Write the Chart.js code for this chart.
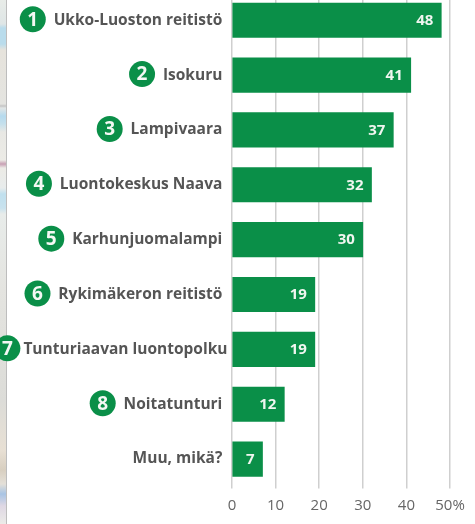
<!DOCTYPE html>
<html><head><meta charset="utf-8">
<script src="https://cdn.jsdelivr.net/npm/chart.js@4/dist/chart.umd.min.js"></script>
<style>
html,body{margin:0;padding:0;background:#fff;overflow:hidden}
#strip{position:absolute;left:0;top:0;width:6px;height:524px;border-right:1.5px solid #bdbdbd;
background:linear-gradient(180deg,#e8ece8 0,#dfe6e6 24px,#b9dcec 28px,#b9dcec 44px,#e6e3dc 50px,#e4e4e0 104px,#c4c4c4 106px,#e2e6e6 108px,#b5daee 116px,#c5e0ec 124px,#e8e8e4 132px,#ecebe6 160px,#c8a0b4 164px,#ecebe6 168px,#e8ecec 188px,#c0e0ee 194px,#c8e2ee 208px,#e8ecea 214px,#e4e4e0 290px,#dcdcd8 400px,#e8e0d4 450px,#d8cfc0 470px,#e4e0d8 484px,#a8c4e4 494px,#dfd8e4 506px,#ecebe8 524px)}
#wrap{position:absolute;left:0;top:-21px;width:475px;height:545px}
</style></head><body>
<div id="strip"></div>
<div id="wrap"><canvas id="c" width="475" height="545"></canvas></div>
<script>
const categories=["Ukko-Luoston reitistö","Isokuru","Lampivaara","Luontokeskus Naava","Karhunjuomalampi","Rykimäkeron reitistö","Tunturiaavan luontopolku","Noitatunturi","Muu, mikä?"];
const values=[48,41,37,32,30,19,19,12,7];
const badges=["1","2","3","4","5","6","7","8",""];
const xTicks=[0,10,20,30,40,50];
const GREEN="#0a8f48", LABEL="#555", FONT='"Open Sans"';
const LABEL_SIZE=15.5, LONG=6, RIGHT_END=222, LONG_END=227.5;
const overlay={id:'overlay',afterDatasetsDraw(ch){
  const ctx=ch.ctx, y=ch.scales.y, meta=ch.getDatasetMeta(0);
  ctx.save();
  ctx.textBaseline='middle';
  meta.data.forEach((bar,i)=>{
    ctx.font='bold 15px '+FONT; ctx.textAlign='right'; ctx.fillStyle='#f0f6f0';
    ctx.fillText(String(values[i]),bar.x-8,bar.y+0.5);
    if(!badges[i])return;
    ctx.font='bold '+LABEL_SIZE+'px '+FONT;
    const w=ctx.measureText(categories[i]).width;
    const right=i===LONG?LONG_END:RIGHT_END;
    const cx=right-w-(i===LONG?16:20.5), cy=y.getPixelForValue(i)-1;
    ctx.beginPath();ctx.arc(cx,cy,13,0,Math.PI*2);ctx.fillStyle=GREEN;ctx.fill();
    ctx.font='bold 19px '+FONT;ctx.textAlign='center';ctx.fillStyle='#f4f8f4';
    ctx.fillText(badges[i],cx,cy+1);
  });
  ctx.restore();
}};
new Chart(document.getElementById('c'),{
  type:'bar',
  data:{labels:categories,datasets:[{data:values,backgroundColor:GREEN,barThickness:34.5,borderWidth:0}]},
  options:{
    indexAxis:'y',responsive:false,animation:false,
    layout:{padding:{top:12.5,right:25,left:0,bottom:0}},
    plugins:{legend:{display:false},tooltip:{enabled:false}},
    scales:{
      x:{min:0,max:50,afterBuildTicks(s){s.ticks=xTicks.map(v=>({value:v}));},
        afterFit(s){s.height=37.5;},
        grid:{color:'#cfcfcf',lineWidth:1.5,drawTicks:true,tickLength:2},
        border:{display:false},
        ticks:{color:'#666',font:{family:FONT,size:15},padding:8,maxRotation:0,
          callback:v=>v===50?'50%':String(v)}},
      y:{afterFit(s){s.width=232;},
        grid:{display:false,drawTicks:false,tickLength:0},border:{display:false},
        ticks:{color:LABEL,font:{family:FONT,size:LABEL_SIZE,weight:'bold'},padding:4.5,autoSkip:false,
          callback:(v,i)=>categories[i]+(i===LONG?'':'\u2009\u2009')}}
    }
  },
  plugins:[overlay]
});
</script></body></html>
